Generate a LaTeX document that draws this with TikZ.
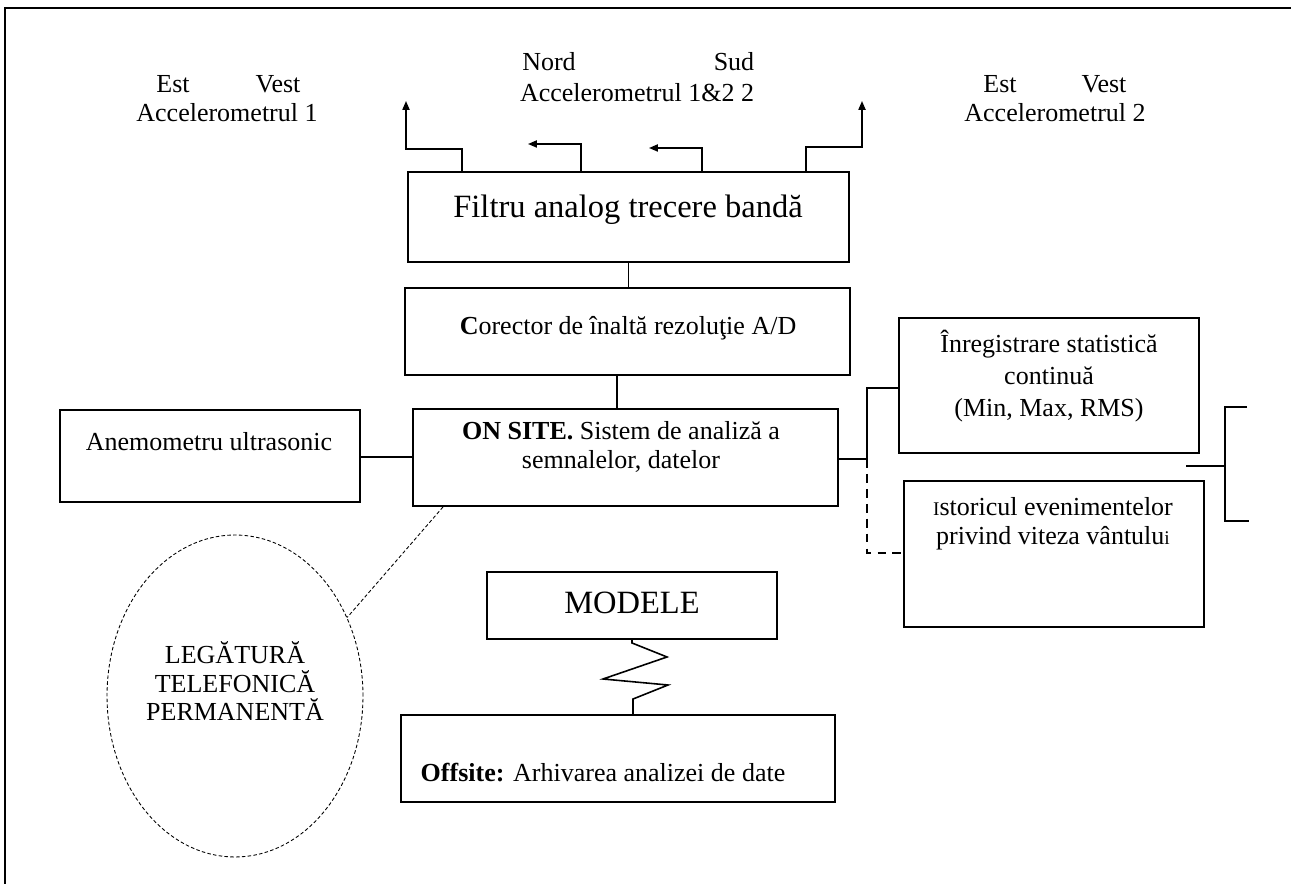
\documentclass[tikz,border=0pt]{standalone}
\usepackage{fontspec}
\setmainfont{Liberation Serif}
\usetikzlibrary{arrows.meta,fit,shapes.geometric}

\begin{document}
\begin{tikzpicture}[x=0.02cm,y=-0.02cm,
  box/.style={draw, line width=1.1pt, inner sep=0pt},
  wire/.style={line width=0.9pt},
  dwire/.style={line width=0.9pt, dash pattern=on 5pt off 3.5pt},
  fine/.style={line width=0.5pt, dash pattern=on 2pt off 1.3pt},
  txt/.style={font=\fontsize{14.8}{17}\selectfont, align=center, inner sep=0pt},
  big/.style={font=\fontsize{18.5}{22}\selectfont, align=center, inner sep=0pt},
  tip/.style={-{Triangle[length=5pt,width=4pt]}}]

\useasboundingbox (0,0) rectangle (1291,884);

% page frame
\draw[line width=1.1pt] (1291,8) -- (5,8) -- (5,884);

% boxes
\node[box, fit={(408,172) (849,262)}] (filtru) {};
\node[box, fit={(405,288) (850,375)}] (corector) {};
\node[box, fit={(413,409) (838,506)}] (onsite) {};
\node[box, fit={(60,410) (360,502)}] (anemo) {};
\node[box, fit={(899,318) (1199,453)}] (inreg) {};
\node[box, fit={(904,481) (1204,627)}] (istoric) {};
\node[box, fit={(487,572) (777,639)}] (modele) {};
\node[box, fit={(401,715) (835,802)}] (offsite) {};
\node[draw, ellipse, fine, minimum width=5.12cm, minimum height=6.44cm, inner sep=0pt] (tel) at (235,696) {};

% box texts
\node[big] (filtruT) at (628,210) {Filtru analog trecere bandă};
\node[txt] (corectorT) at (628,328) {\textbf{C}orector de înaltă rezoluţie A/D};
\node[txt] (onsiteT) at (621,447) {\textbf{ON SITE.} Sistem de analiză a\\semnalelor, datelor};
\node[txt] (anemoT) at (209,442) {Anemometru ultrasonic};
\node[txt, font=\fontsize{14.8}{18}\selectfont] (inregT) at (1049,376) {Înregistrare statistică\\continuă\\(Min, Max, RMS)};
\node[txt, font=\fontsize{14.8}{16.5}\selectfont] (istoricT) at (1053,524)
  {{\fontsize{11}{13}\selectfont I}storicul evenimentelor\\privind viteza vântulu{\fontsize{11}{13}\selectfont i}};
\node[big] (modeleT) at (632,603) {MODELE};
\node[txt] (offsiteT) at (603,773) {\textbf{Offsite:} Arhivarea analizei de date};
\node[txt, font=\fontsize{14.8}{16.5}\selectfont] (telT) at (235,681) {LEGĂTURĂ\\TELEFONICĂ\\PERMANENTĂ};

% accelerometer labels
\node[txt] (est1) at (173,84) {Est};
\node[txt] (vest1) at (278,84) {Vest};
\node[txt] (acc1) at (227,113) {Accelerometrul 1};
\node[txt] (nord) at (549,62) {Nord};
\node[txt] (sud) at (734,62) {Sud};
\node[txt] (acc12) at (637,93) {Accelerometrul 1\&2 2};
\node[txt] (est2) at (1000,84) {Est};
\node[txt] (vest2) at (1104,84) {Vest};
\node[txt] (acc2) at (1055,113) {Accelerometrul 2};

% outputs of the band-pass filter
\coordinate (o1) at (406,101);
\coordinate (o2) at (528,144);
\coordinate (o3) at (649,148);
\coordinate (o4) at (862,101);
\draw[wire,tip] (462,0 |- filtru.north) |- (406,149) -- (o1);
\draw[wire,tip] (581,0 |- filtru.north) |- (o2);
\draw[wire,tip] (702,0 |- filtru.north) |- (o3);
\draw[wire,tip] (806,0 |- filtru.north) |- (862,147) -- (o4);

% main chain
\draw[wire] (filtru.south) -- (filtru.south |- corector.north);
\draw[wire] (617,0 |- corector.south) -- (617,0 |- onsite.north);
\draw[wire] (anemo.east |- 0,457) -- (onsite.west |- 0,457);

% outputs of the on-site system
\coordinate (jr) at (867,459);
\coordinate (jt) at (867,388);
\coordinate (jb) at (867,553);
\draw[wire] (onsite.east |- jr) -- (jr) -- (jt) -- (inreg.west |- jt);
\draw[dwire] (jr) -- (jb) -- ([xshift=0.08cm]istoric.west |- jb);

% bracket
\coordinate (bt) at (1247,407);
\coordinate (bb) at (1249,521);
\coordinate (bm) at (1186,466);
\draw[wire] (bt) -- (1225,407) -- (1225,521) -- (bb);
\draw[wire] (bm) -- (1225,466);

% telephone link
\draw[fine] (443,0 |- onsite.south) -- (tel.35);

% models to off-site archive
\draw[wire] (632,0 |- modele.south) -- (632,643) -- (667,657) -- (603,679)
  -- (668,685) -- (633,699) -- (633,0 |- offsite.north);
\end{tikzpicture}
\end{document}
